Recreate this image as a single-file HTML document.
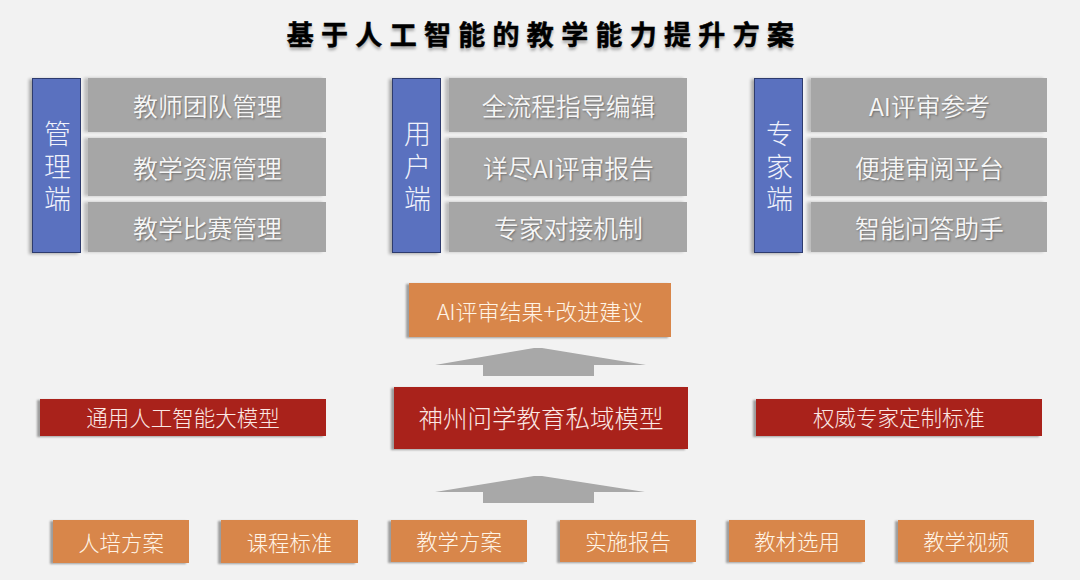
<!DOCTYPE html>
<html lang="zh-CN"><head><meta charset="utf-8">
<style>
html,body{margin:0;padding:0}
body{width:1080px;height:580px;background:#f2f2f2;position:relative;overflow:hidden;font-family:"Liberation Sans",sans-serif}
.a{position:absolute;box-sizing:border-box}
.title{left:0;width:1080px;top:14px;padding-left:8px;text-align:center;font-family:"Noto Sans CJK SC",sans-serif;font-size:27px;font-weight:700;letter-spacing:7.3px;color:#000;-webkit-text-stroke:0.5px #000;text-shadow:0 3px 3px rgba(0,0,0,.3)}
.t{font-family:"Noto Sans CJK SC DemiLight","Noto Sans CJK SC",sans-serif;color:#fff;text-align:center;white-space:nowrap}
.blue{background:#5a71bf;font-family:"Noto Sans CJK SC",sans-serif;font-weight:300;color:#f0f2fb;padding-left:2px;border:1.5px solid #2d3b6e;font-size:27px;line-height:32.5px;padding-top:38px;box-shadow:-3px 1px 3px rgba(0,0,0,.3)}
.gray{background:#a6a6a6;font-size:24.8px;padding-left:1px;color:#f6f6f6;text-shadow:1px 1px 2px rgba(0,0,0,.35);box-shadow:-4px 0 3px rgba(0,0,0,.22)}
.org{background:#d8864a;font-family:"Noto Sans CJK SC",sans-serif;font-weight:300;color:#fff4e6;box-shadow:-3px 1px 2px rgba(0,0,0,.35)}
.red{background:#a9221b;font-family:"Noto Sans CJK SC",sans-serif;font-weight:300;color:#fbe8e4;box-shadow:-3px 1px 2px rgba(0,0,0,.35)}
</style></head><body>
<div class="a title">基于人工智能的教学能力提升方案</div>

<div class="a t blue" style="left:32px;top:78px;width:49px;height:175px">管<br>理<br>端</div>
<div class="a t gray" style="left:88px;top:78px;width:238px;height:54px;line-height:55px">教师团队管理</div>
<div class="a t gray" style="left:88px;top:138px;width:238px;height:58px;line-height:59px">教学资源管理</div>
<div class="a t gray" style="left:88px;top:202px;width:238px;height:50px;line-height:51px">教学比赛管理</div>

<div class="a t blue" style="left:392px;top:78px;width:49px;height:175px">用<br>户<br>端</div>
<div class="a t gray" style="left:449px;top:78px;width:238px;height:54px;line-height:55px">全流程指导编辑</div>
<div class="a t gray" style="left:449px;top:138px;width:238px;height:58px;line-height:59px">详尽AI评审报告</div>
<div class="a t gray" style="left:449px;top:202px;width:238px;height:50px;line-height:51px">专家对接机制</div>

<div class="a t blue" style="left:754px;top:78px;width:49px;height:175px">专<br>家<br>端</div>
<div class="a t gray" style="left:811px;top:78px;width:236px;height:54px;line-height:55px">AI评审参考</div>
<div class="a t gray" style="left:811px;top:138px;width:236px;height:58px;line-height:59px">便捷审阅平台</div>
<div class="a t gray" style="left:811px;top:202px;width:236px;height:50px;line-height:51px">智能问答助手</div>

<div class="a t org" style="left:409px;top:283px;width:262px;height:54px;line-height:54px;font-size:22px">AI评审结果+改进建议</div>

<svg class="a" style="left:0;top:0" width="1080" height="580"><defs><filter id="b" x="-5%" y="-20%" width="110%" height="140%"><feGaussianBlur stdDeviation="0.6"/></filter></defs><g filter="url(#b)">
<polygon points="435,365 534,348 542,348 646,365 594,365 594,376 483,376 483,365" fill="#a8a8a8"/>
<polygon points="435,492 534,476 542,476 645,492 594,492 594,503 483,503 483,492" fill="#a8a8a8"/>
</g></svg>

<div class="a t red" style="left:40px;top:399px;width:286px;height:37px;line-height:35px;font-size:21.5px">通用人工智能大模型</div>
<div class="a t red" style="left:394px;top:387px;width:294px;height:62px;line-height:62px;font-size:24.5px">神州问学教育私域模型</div>
<div class="a t red" style="left:756px;top:399px;width:286px;height:37px;line-height:35px;font-size:21.5px">权威专家定制标准</div>

<div class="a t org" style="left:53px;top:520px;width:136px;height:43px;line-height:43px;font-size:21.4px">人培方案</div>
<div class="a t org" style="left:221px;top:520px;width:137px;height:43px;line-height:43px;font-size:21.4px">课程标准</div>
<div class="a t org" style="left:391px;top:520px;width:136px;height:42px;line-height:42px;font-size:21.4px">教学方案</div>
<div class="a t org" style="left:560px;top:520px;width:136px;height:42px;line-height:42px;font-size:21.4px">实施报告</div>
<div class="a t org" style="left:729px;top:520px;width:136px;height:42px;line-height:42px;font-size:21.4px">教材选用</div>
<div class="a t org" style="left:898px;top:520px;width:136px;height:42px;line-height:42px;font-size:21.4px">教学视频</div>
</body></html>
